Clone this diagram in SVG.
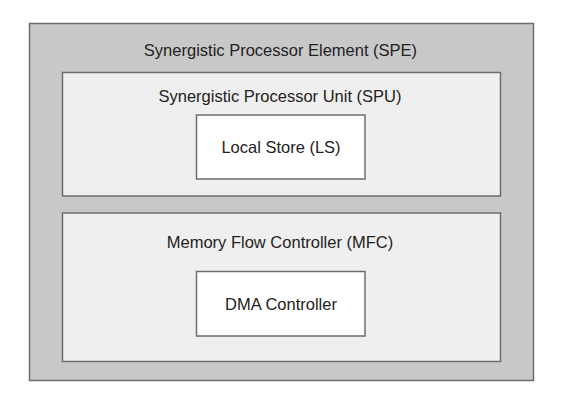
<svg xmlns="http://www.w3.org/2000/svg" width="563" height="411" viewBox="0 0 563 411">
<style>
rect{stroke:#6e6e6e;stroke-width:1.5}
.spe{fill:#c8c8c8}
.sub{fill:#efefef}
.box{fill:#ffffff}
text{font-family:"Liberation Sans",Arial,sans-serif;font-size:16.5px;fill:#222;text-anchor:middle}
</style>
<rect width="563" height="411" fill="#fff" style="stroke:none"/>
<g id="spe"><rect class="spe" x="29.5" y="23.5" width="504" height="357"/><text x="280.5" y="56">Synergistic Processor Element (SPE)</text></g>
<g id="spu"><rect class="sub" x="62.5" y="72.5" width="438" height="123.5"/><text x="280" y="102">Synergistic Processor Unit (SPU)</text></g>
<g id="ls"><rect class="box" x="196.5" y="115" width="168.5" height="64"/><text x="281" y="153">Local Store (LS)</text></g>
<g id="mfc"><rect class="sub" x="62.5" y="213" width="438" height="148.5"/><text x="280" y="247.5">Memory Flow Controller (MFC)</text></g>
<g id="dma"><rect class="box" x="196.5" y="271.5" width="168.5" height="64.5"/><text x="281" y="310">DMA Controller</text></g>
<g id="connectors"/>
</svg>
